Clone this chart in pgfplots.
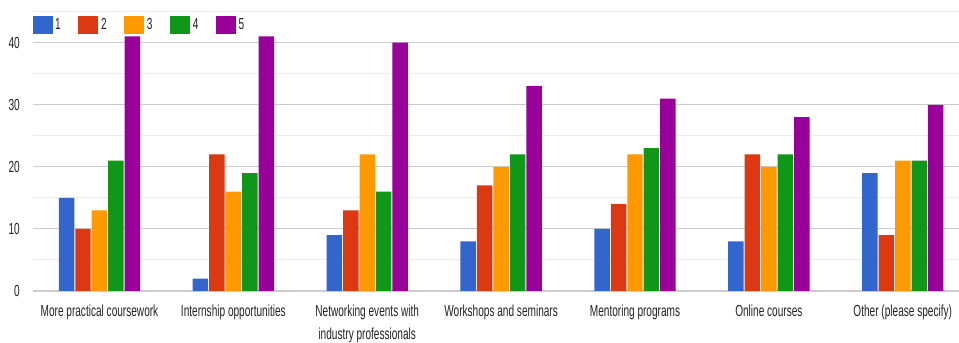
\documentclass[border=0pt]{standalone}
\usepackage{fontspec}
\setmainfont{Liberation Sans}[FakeStretch=0.63]
\usepackage{pgfplots}
\pgfplotsset{compat=1.18}
\definecolor{c1}{HTML}{3366CC}
\definecolor{c2}{HTML}{DC3912}
\definecolor{c3}{HTML}{FF9900}
\definecolor{c4}{HTML}{109618}
\definecolor{c5}{HTML}{990099}
\definecolor{txt}{HTML}{222222}
\begin{document}
\begin{tikzpicture}[x=1pt,y=1pt]
\begin{axis}[
  at={(0,0)}, anchor=south west,
  scale only axis,
  width=694.9pt, height=209.5pt,
  xmin=-0.5, xmax=6.42,
  ymin=0, ymax=45,
  axis line style={draw=none},
  ybar=0.75pt, bar width=11.6pt,
  xtick={0,1,2,3,4,5,6},
  xticklabels={More practical coursework, Internship opportunities, {Networking events with\\[2pt]industry professionals}, Workshops and seminars, Mentoring programs, Online courses, Other (please specify)},
  xticklabel style={align=center, font=\fontsize{12}{15}\selectfont, text=txt, anchor=north, yshift=-7pt},
  ytick={0,10,20,30,40},
  minor ytick={5,15,25,35,45},
  ymajorgrids, yminorgrids,
  major grid style={draw=black!20, line width=0.8pt},
  minor grid style={draw=black!7, line width=0.8pt},
  extra y ticks={0}, extra y tick labels={},
  extra y tick style={grid style={draw=black!40, line width=0.9pt}},
  major tick length=0pt, minor tick length=0pt,
  yticklabel style={font=\fontsize{12}{13}\selectfont, text=txt, anchor=east, xshift=-6pt},
  /pgf/number format/assume math mode=true,
  legend columns=5,
  legend style={at={(0,1)}, anchor=north west, yshift=-3pt, draw=none, fill=none,
    inner sep=0pt, outer sep=0pt, font=\fontsize{12}{13}\selectfont, text=txt,
    /tikz/every even column/.append style={column sep=11.2pt}},
  legend image code/.code={\fill[#1,draw=none] (0pt,-6.5pt) rectangle (15pt,6.5pt);},
  legend cell align=left,
]
\addplot[fill=c1, draw=none] coordinates {(0,15) (1,2) (2,9) (3,8) (4,10) (5,8) (6,19)};
\addplot[fill=c2, draw=none] coordinates {(0,10) (1,22) (2,13) (3,17) (4,14) (5,22) (6,9)};
\addplot[fill=c3, draw=none] coordinates {(0,13) (1,16) (2,22) (3,20) (4,22) (5,20) (6,21)};
\addplot[fill=c4, draw=none] coordinates {(0,21) (1,19) (2,16) (3,22) (4,23) (5,22) (6,21)};
\addplot[fill=c5, draw=none] coordinates {(0,41) (1,41) (2,40) (3,33) (4,31) (5,28) (6,30)};
\legend{1,2,3,4,5}
\end{axis}
\pgfresetboundingbox
\path[use as bounding box] (-24.4pt,-39pt) rectangle (694.9pt,218.25pt);
\end{tikzpicture}
\end{document}
